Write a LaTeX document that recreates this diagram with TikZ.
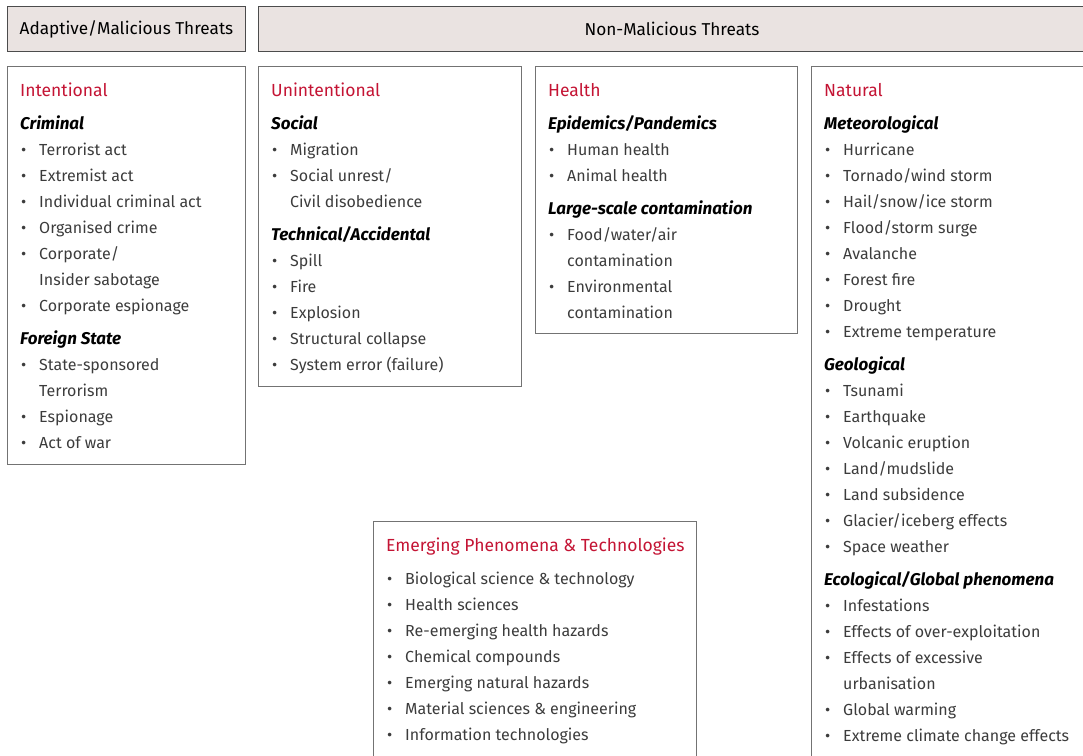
\documentclass[tikz,border=0pt]{standalone}
\usepackage{fontspec}
\setmainfont{Fira Sans}
\usetikzlibrary{positioning}

\definecolor{hdrfill}{HTML}{EAE3E1}
\definecolor{catred}{HTML}{C41434}
\definecolor{txtgray}{HTML}{3C3C3C}
\newcommand{\bx}{\fontsize{16}{26}\selectfont}
\newcommand{\cat}[1]{{\color{catred}\fontsize{17.5}{26}\selectfont #1}}
\newcommand{\subhd}[1]{{\color{black}\fontsize{17}{26}\selectfont\bfseries\itshape #1}}
\newcommand{\itm}[1]{\makebox[19pt][l]{\hspace{1pt}\textbullet}#1}
\newcommand{\cnt}[1]{\hspace*{19pt}#1}

\tikzset{
  hdr/.style={draw=black!70, fill=hdrfill, line width=0.9pt, minimum height=45pt,
    anchor=north west, inner sep=0pt, font=\fontsize{17.2}{20}\selectfont},
  catbox/.style={draw=black!55, line width=0.9pt, anchor=north west, inner sep=0pt},
  list/.style={align=left, inner sep=0pt, font=\bx, text=txtgray},
}

\begin{document}
\begin{tikzpicture}[x=1pt, y=-1pt]
    \useasboundingbox (0,0) rectangle (1083,755);
    \clip (0,0) rectangle (1083,755);

    % header bars
    \node (adapt) [hdr, minimum width=238pt] at (7,6) {Adaptive/Malicious Threats};
    \node (nonmal) [hdr, minimum width=827pt] at (258,6) {Non-Malicious Threats};

    % category boxes
    \node (intent) [catbox, minimum width=238pt, minimum height=398pt] at (7,66) {};
    \node (unint) [catbox, minimum width=263pt, minimum height=320pt] at (258,66) {};
    \node (health) [catbox, minimum width=262pt, minimum height=267pt] at (535,66) {};
    \node (natural) [catbox, minimum width=290pt, minimum height=720pt] at (811,66) {};
    \node (emerg) [catbox, minimum width=323pt, minimum height=260pt] at (373,521) {};

    % intentional
    \node (intentL) [list, below right=17pt and 13pt of intent.north west] {%
      \cat{Intentional}\\[7pt]
      \subhd{Criminal}\\
      \itm{Terrorist act}\\
      \itm{Extremist act}\\
      \itm{Individual criminal act}\\
      \itm{Organised crime}\\
      \itm{Corporate/}\\
      \cnt{Insider sabotage}\\
      \itm{Corporate espionage}\\[7pt]
      \subhd{Foreign State}\\
      \itm{State-sponsored}\\
      \cnt{Terrorism}\\
      \itm{Espionage}\\
      \itm{Act of war}};

    % unintentional
    \node (unintL) [list, below right=17pt and 13pt of unint.north west] {%
      \cat{Unintentional}\\[7pt]
      \subhd{Social}\\
      \itm{Migration}\\
      \itm{Social unrest/}\\
      \cnt{Civil disobedience}\\[7pt]
      \subhd{Technical/Accidental}\\
      \itm{Spill}\\
      \itm{Fire}\\
      \itm{Explosion}\\
      \itm{Structural collapse}\\
      \itm{System error (failure)}};

    % health
    \node (healthL) [list, below right=17pt and 13pt of health.north west] {%
      \cat{Health}\\[7pt]
      \subhd{Epidemics/Pandemics}\\
      \itm{Human health}\\
      \itm{Animal health}\\[7pt]
      \subhd{Large-scale contamination}\\
      \itm{Food/water/air}\\
      \cnt{contamination}\\
      \itm{Environmental}\\
      \cnt{contamination}};

    % natural
    \node (naturalL) [list, below right=17pt and 13pt of natural.north west] {%
      \cat{Natural}\\[7pt]
      \subhd{Meteorological}\\
      \itm{Hurricane}\\
      \itm{Tornado/wind storm}\\
      \itm{Hail/snow/ice storm}\\
      \itm{Flood/storm surge}\\
      \itm{Avalanche}\\
      \itm{Forest fire}\\
      \itm{Drought}\\
      \itm{Extreme temperature}\\[7pt]
      \subhd{Geological}\\
      \itm{Tsunami}\\
      \itm{Earthquake}\\
      \itm{Volcanic eruption}\\
      \itm{Land/mudslide}\\
      \itm{Land subsidence}\\
      \itm{Glacier/iceberg effects}\\
      \itm{Space weather}\\[7pt]
      \subhd{Ecological/Global phenomena}\\
      \itm{Infestations}\\
      \itm{Effects of over-exploitation}\\
      \itm{Effects of excessive}\\
      \cnt{urbanisation}\\
      \itm{Global warming}\\
      \itm{Extreme climate change effects}};

    % emerging
    \node (emergL) [list, below right=17pt and 13pt of emerg.north west] {%
      \cat{Emerging Phenomena \& Technologies}\\[7pt]
      \itm{Biological science \& technology}\\
      \itm{Health sciences}\\
      \itm{Re-emerging health hazards}\\
      \itm{Chemical compounds}\\
      \itm{Emerging natural hazards}\\
      \itm{Material sciences \& engineering}\\
      \itm{Information technologies}};
\end{tikzpicture}
\end{document}
